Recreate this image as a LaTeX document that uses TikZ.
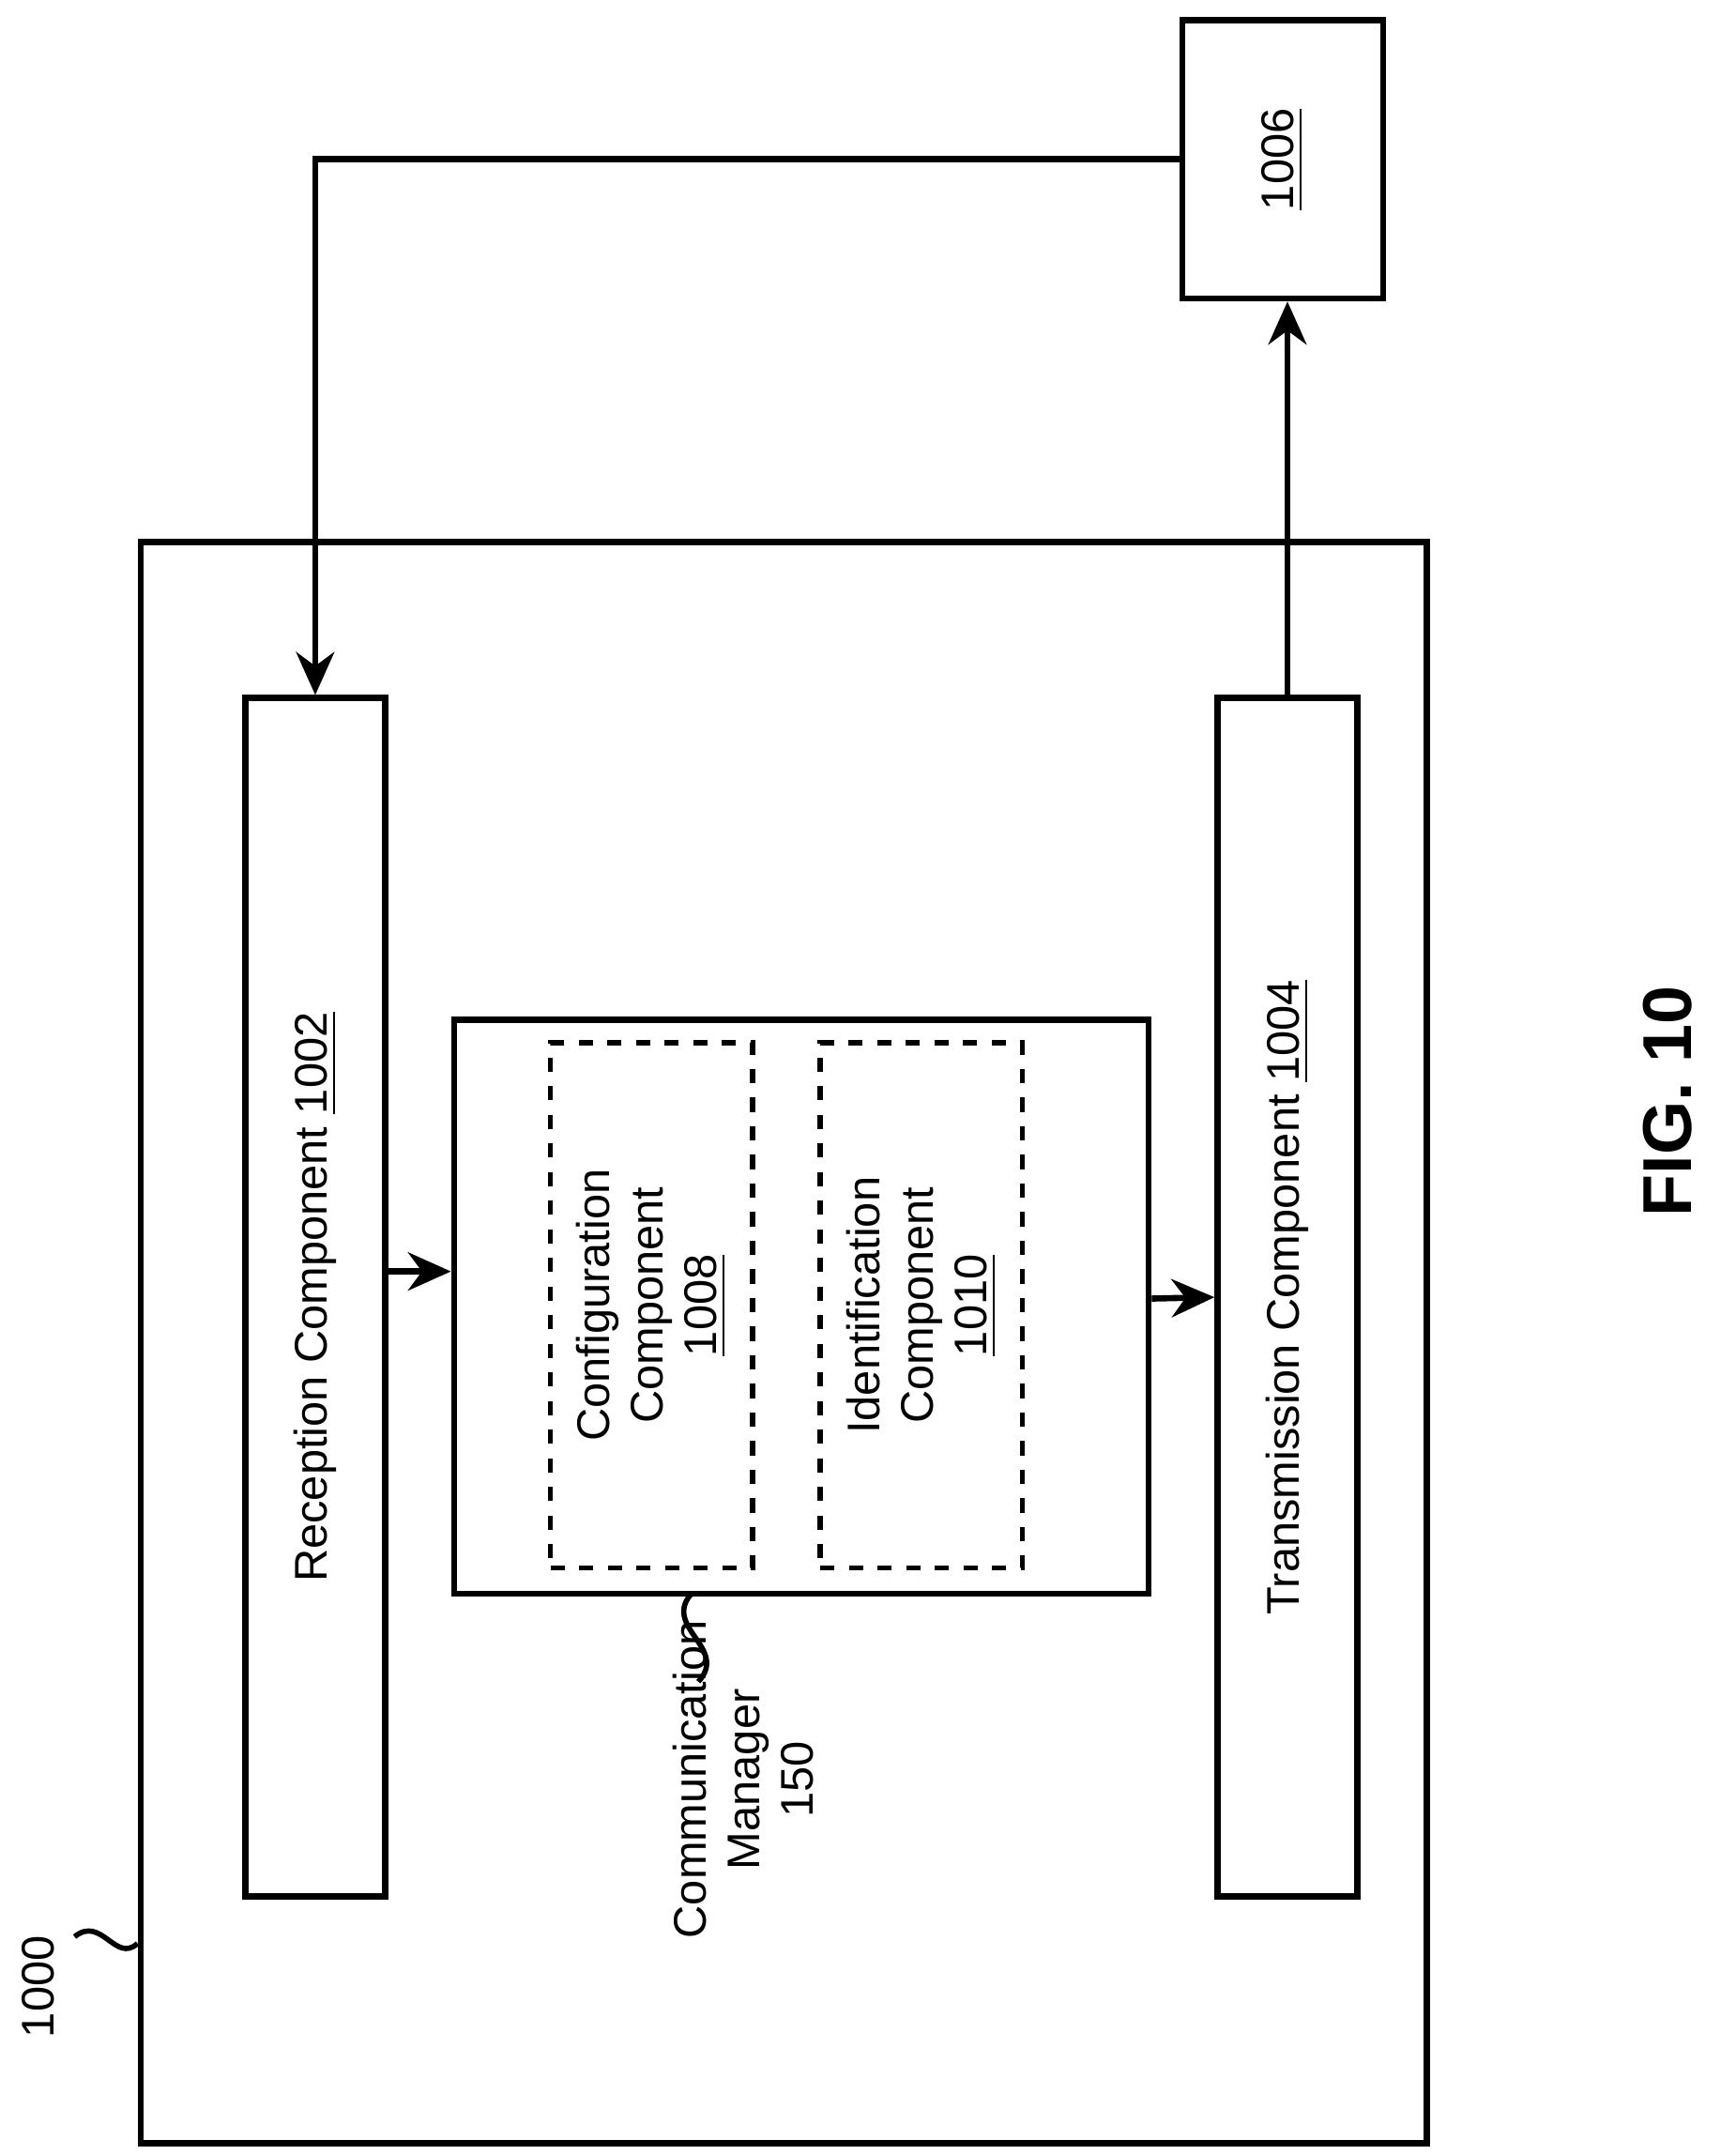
\documentclass[tikz,border=0pt]{standalone}
\usepackage{fontspec}
\setmainfont{Liberation Sans}
\usetikzlibrary{arrows.meta, calc, positioning}

\tikzset{
  box/.style={draw, line width=1.3pt, inner sep=0pt},
  subbox/.style={draw, dashed, line width=1.1pt, inner sep=0pt},
  lbl/.style={rotate=90, align=center, font=\fontsize{9.6}{11.2}\selectfont},
  link/.style={line width=1.3pt, -{Stealth[length=9pt, width=8pt]}}
}

\begin{document}
\begin{tikzpicture}[x=0.01cm, y=-0.01cm]
  \useasboundingbox (0,0) rectangle (1280,1589);

  % Apparatus frame
  \node[box, minimum width=9.48cm, minimum height=11.8cm] (frame) at (578,990) {};
  \node[lbl] (framelbl) at (28,1465) {1000};
  \draw[line width=1.1pt] (55,1428) .. controls (75,1412) and (85,1448) .. (frame.west |- 0,1433);

  % Remote device
  \node[box, minimum width=1.48cm, minimum height=2.05cm] (dev) at (946,117.5) {};
  \node[lbl] (devlbl) at (dev.center) {\underline{1006}};

  % Reception / transmission
  \node[box, minimum width=1.03cm, minimum height=8.83cm] (rec) at (232.5,956.5) {};
  \node[lbl] (reclbl) at (rec.center) {Reception Component \underline{1002}};
  \node[box, minimum width=1.03cm, minimum height=8.83cm] (tx) at (949.5,956.5) {};
  \node[lbl] (txlbl) at (tx.center) {Transmission Component \underline{1004}};

  % Communication manager
  \node[box, minimum width=5.12cm, minimum height=4.23cm] (cm) at (591,963.5) {};
  \node[subbox, minimum width=1.49cm, minimum height=3.87cm] (cfg) at (480.5,962.5) {};
  \node[lbl] (cfglbl) at (cfg.center) {Configuration\\Component\\\underline{1008}};
  \node[subbox, minimum width=1.49cm, minimum height=3.87cm] (idc) at (679.5,962.5) {};
  \node[lbl] (idclbl) at (idc.center) {Identification\\Component\\\underline{1010}};
  \node[lbl] (cmlbl) at (548,1312) {Communication\\Manager\\150};
  \draw[line width=1.1pt] (510,1175) .. controls (488,1200) and (538,1215) .. (515,1240);

  % Connectors
  \draw[link] (dev.west) -| (rec.north);
  \draw[link] (tx.north) -- (tx.north |- dev.south);
  \draw[link] ($(rec.east)+(0,-19)$) -- ($(cm.west)+(0,-26)$);
  \draw[link] ($(cm.east)+(0,-6)$) -- ($(tx.west)+(0,0)$);

  \node[rotate=90, font=\bfseries\fontsize{14.5}{17}\selectfont] (fig) at (1230,812) {FIG. 10};
\end{tikzpicture}
\end{document}
